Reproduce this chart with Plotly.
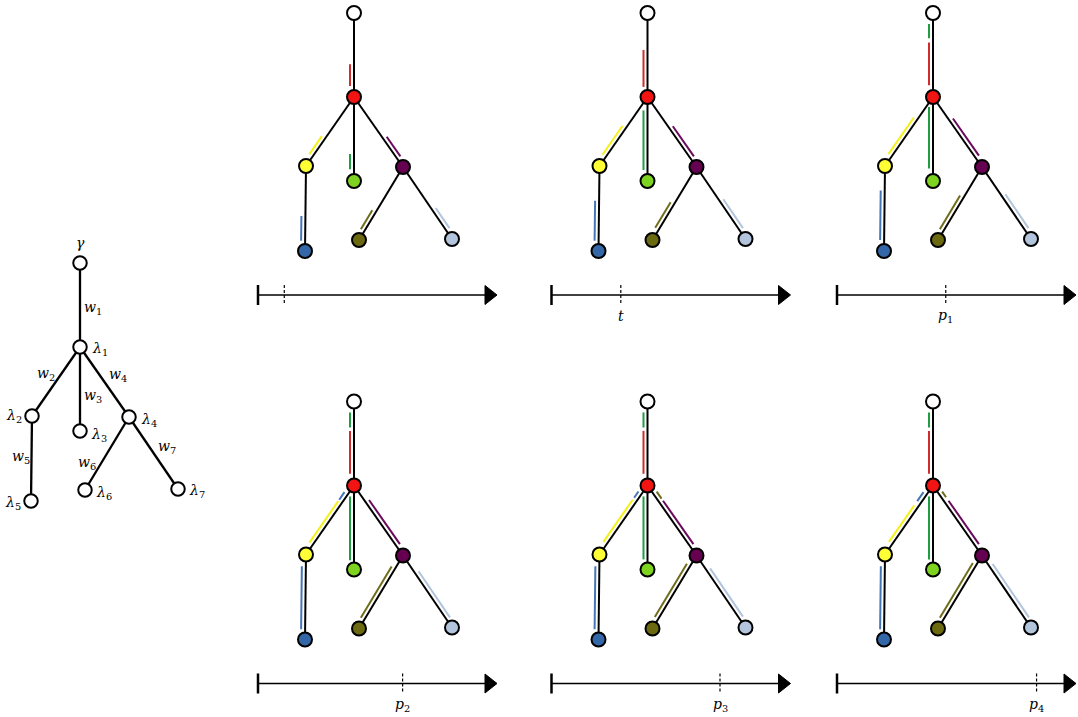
import numpy as np
import plotly.graph_objects as go

# ---------------- data ----------------
# tree: node 0 = root (gamma), 1..7 = lambda_1..lambda_7
node_labels = ["γ", "λ1", "λ2", "λ3", "λ4", "λ5", "λ6", "λ7"]
node_dx = [0, 0, -48, 0, 49, -49, 5, 98]
node_dy = [0, 84, 153, 168, 154, 238, 227, 226]
edge_labels = ["w1", "w2", "w3", "w4", "w5", "w6", "w7"]
edge_child = [1, 2, 3, 4, 5, 6, 7]
edge_parent = [0, 1, 1, 1, 2, 4, 4]

node_colors = ["#ffffff", "#f21313", "#ffff35", "#7dd31f", "#660050",
               "#3467a8", "#6c6a10", "#b2c5dc"]
bar_colors = {1: "#d02c2c", 2: "#f4f01a", 3: "#1e9e40", 4: "#6a0a5c",
              5: "#4676b8", 6: "#6e6d1a", 7: "#b2c5dc"}

# time marker on each timeline (fraction of axis) and its label
time_marks = [0.11, 0.29, 0.455, 0.605, 0.705, 0.835]
time_labels = ["", "t", "p1", "p2", "p3", "p4"]

# progress segments per panel: edge index -> list of (colour node, start, end)
# start/end = fraction of the edge, measured from the child node toward the parent
panel_segments = [
    {0: [(1, 0.13, 0.39)], 1: [(2, 0.14, 0.40)], 2: [(3, 0.14, 0.32)],
     3: [(4, 0.12, 0.40)], 4: [(5, 0.12, 0.41)], 5: [(6, 0.12, 0.38)],
     6: [(7, 0.12, 0.40)]},
    {0: [(1, 0.12, 0.56)], 1: [(2, 0.13, 0.55)], 2: [(3, 0.13, 0.84)],
     3: [(4, 0.12, 0.55)], 4: [(5, 0.12, 0.59)], 5: [(6, 0.14, 0.49)],
     6: [(7, 0.12, 0.52)]},
    {0: [(1, 0.14, 0.65), (3, 0.70, 0.87)], 1: [(2, 0.14, 0.67)],
     2: [(3, 0.15, 0.88)], 3: [(4, 0.13, 0.66)], 4: [(5, 0.13, 0.71)],
     5: [(6, 0.12, 0.58)], 6: [(7, 0.12, 0.59)]},
    {0: [(1, 0.14, 0.65), (3, 0.69, 0.87)], 1: [(2, 0.14, 0.74), (5, 0.76, 0.87)],
     2: [(3, 0.11, 0.87)], 3: [(4, 0.13, 0.76)], 4: [(5, 0.12, 0.86)],
     5: [(6, 0.12, 0.82)], 6: [(7, 0.11, 0.75)]},
    {0: [(1, 0.14, 0.65), (3, 0.69, 0.87)], 1: [(2, 0.15, 0.76), (5, 0.79, 0.88)],
     2: [(3, 0.12, 0.87)], 3: [(4, 0.13, 0.75), (6, 0.78, 0.88)],
     4: [(5, 0.12, 0.86)], 5: [(6, 0.13, 0.86)], 6: [(7, 0.12, 0.79)]},
    {0: [(1, 0.14, 0.65), (3, 0.69, 0.87)], 1: [(2, 0.15, 0.68), (5, 0.74, 0.87)],
     2: [(3, 0.12, 0.87)], 3: [(4, 0.13, 0.75), (6, 0.80, 0.88)],
     4: [(5, 0.12, 0.86)], 5: [(6, 0.12, 0.87)], 6: [(7, 0.11, 0.85)]},
]

# ---------------- layout (pixels) ----------------
W, H = 1078, 717
left_origin = (80, 263)
axis_starts = [(258, 295), (551.5, 295), (837, 295),
               (258, 683.5), (551.5, 683.5), (837, 683.5)]
axis_len = 239
root_off = (96, -282)     # root position relative to axis start
bar_off = 4.0

fig = go.Figure()
annotations = []


def nodes_xy(ox, oy):
    return [ox + dx for dx in node_dx], [oy + dy for dy in node_dy]


def add_edges(xs, ys, width):
    ex, ey = [], []
    for c, p in zip(edge_child, edge_parent):
        ex += [xs[p], xs[c], None]
        ey += [ys[p], ys[c], None]
    fig.add_trace(go.Scatter(x=ex, y=ey, mode="lines",
                             line=dict(color="black", width=width),
                             hoverinfo="skip", showlegend=False))


def math_label(s):
    if len(s) == 1:
        return "<i>%s</i>" % s
    return "<i>%s</i><sub>%s</sub>" % (s[0], s[1:])


def add_text(x, y, s, size=14):
    annotations.append(dict(x=x, y=y, xref="x", yref="y", text=math_label(s),
                            showarrow=False, xanchor="center", yanchor="middle",
                            font=dict(family="DejaVu Serif", size=size,
                                      color="black")))


# ---- left reference tree ----
lx, ly = nodes_xy(*left_origin)
add_edges(lx, ly, 2.3)
fig.add_trace(go.Scatter(x=lx, y=ly, mode="markers",
                         marker=dict(size=13.5, color="white",
                                     line=dict(color="black", width=2)),
                         hoverinfo="skip", showlegend=False))

node_lab_off = [(0, -20), (20, 2), (-18, 0), (19, 4), (20, 3),
                (-18, 2), (19, 3), (19, 2)]
edge_lab_pos = [(93, 308), (46, 374), (93, 396), (118, 375),
                (21, 457), (87, 463), (167, 447)]
for i in range(8):
    add_text(lx[i] + node_lab_off[i][0], ly[i] + node_lab_off[i][1], node_labels[i])
for i in range(7):
    add_text(edge_lab_pos[i][0], edge_lab_pos[i][1], edge_labels[i])

# ---- panels ----
casing_x, casing_y = [], []
col_x = {k: [] for k in bar_colors}
col_y = {k: [] for k in bar_colors}
all_nx, all_ny, all_nc = [], [], []

for pi, (ax0, ay0) in enumerate(axis_starts):
    rx, ry = ax0 + root_off[0], ay0 + root_off[1]
    xs, ys = nodes_xy(rx, ry)
    add_edges(xs, ys, 2)
    for ei, segs in panel_segments[pi].items():
        c, p = edge_child[ei], edge_parent[ei]
        vx, vy = xs[p] - xs[c], ys[p] - ys[c]
        L = np.hypot(vx, vy)
        ux, uy = vx / L, vy / L
        nx, ny = uy, -ux
        if not (ny < -1e-6 or (abs(ny) < 1e-6 and nx < 0)):
            nx, ny = -nx, -ny
        for col, s0, s1 in segs:
            x0 = xs[c] + ux * s0 * L + nx * bar_off
            y0 = ys[c] + uy * s0 * L + ny * bar_off
            x1 = xs[c] + ux * s1 * L + nx * bar_off
            y1 = ys[c] + uy * s1 * L + ny * bar_off
            casing_x += [x0, x1, None]
            casing_y += [y0, y1, None]
            col_x[col] += [x0, x1, None]
            col_y[col] += [y0, y1, None]
    all_nx += xs
    all_ny += ys
    all_nc += node_colors

    # timeline
    x_end = ax0 + axis_len
    fig.add_trace(go.Scatter(x=[ax0, x_end - 10], y=[ay0, ay0], mode="lines",
                             line=dict(color="black", width=1.4),
                             hoverinfo="skip", showlegend=False))
    fig.add_trace(go.Scatter(x=[ax0, ax0], y=[ay0 - 10, ay0 + 10], mode="lines",
                             line=dict(color="black", width=2.5),
                             hoverinfo="skip", showlegend=False))
    fig.add_trace(go.Scatter(x=[x_end - 12, x_end, x_end - 12, x_end - 12],
                             y=[ay0 - 9.5, ay0, ay0 + 9.5, ay0 - 9.5],
                             mode="lines", fill="toself", fillcolor="black",
                             line=dict(color="black", width=1),
                             hoverinfo="skip", showlegend=False))
    tm = ax0 + time_marks[pi] * axis_len
    fig.add_trace(go.Scatter(x=[tm, tm], y=[ay0 - 10, ay0 + 9], mode="lines",
                             line=dict(color="black", width=1.2, dash="3px,2px"),
                             hoverinfo="skip", showlegend=False))
    if time_labels[pi]:
        add_text(tm, ay0 + 21, time_labels[pi], size=14)

fig.add_trace(go.Scatter(x=casing_x, y=casing_y, mode="lines",
                         line=dict(color="white", width=4),
                         hoverinfo="skip", showlegend=False))
for k in bar_colors:
    fig.add_trace(go.Scatter(x=col_x[k], y=col_y[k], mode="lines",
                             line=dict(color=bar_colors[k], width=2),
                             hoverinfo="skip", showlegend=False))
fig.add_trace(go.Scatter(x=all_nx, y=all_ny, mode="markers",
                         marker=dict(size=14, color=all_nc,
                                     line=dict(color="black", width=2)),
                         hoverinfo="skip", showlegend=False))

fig.update_layout(
    width=W, height=H, margin=dict(l=0, r=0, t=0, b=0),
    paper_bgcolor="white", plot_bgcolor="white", showlegend=False,
    xaxis=dict(range=[0, W], visible=False, fixedrange=True),
    yaxis=dict(range=[H, 0], visible=False, fixedrange=True),
    annotations=annotations,
)

fig.write_html("out.html", config={"displayModeBar": False},
               post_script="document.body.style.margin='0';document.body.style.overflow='hidden';")
